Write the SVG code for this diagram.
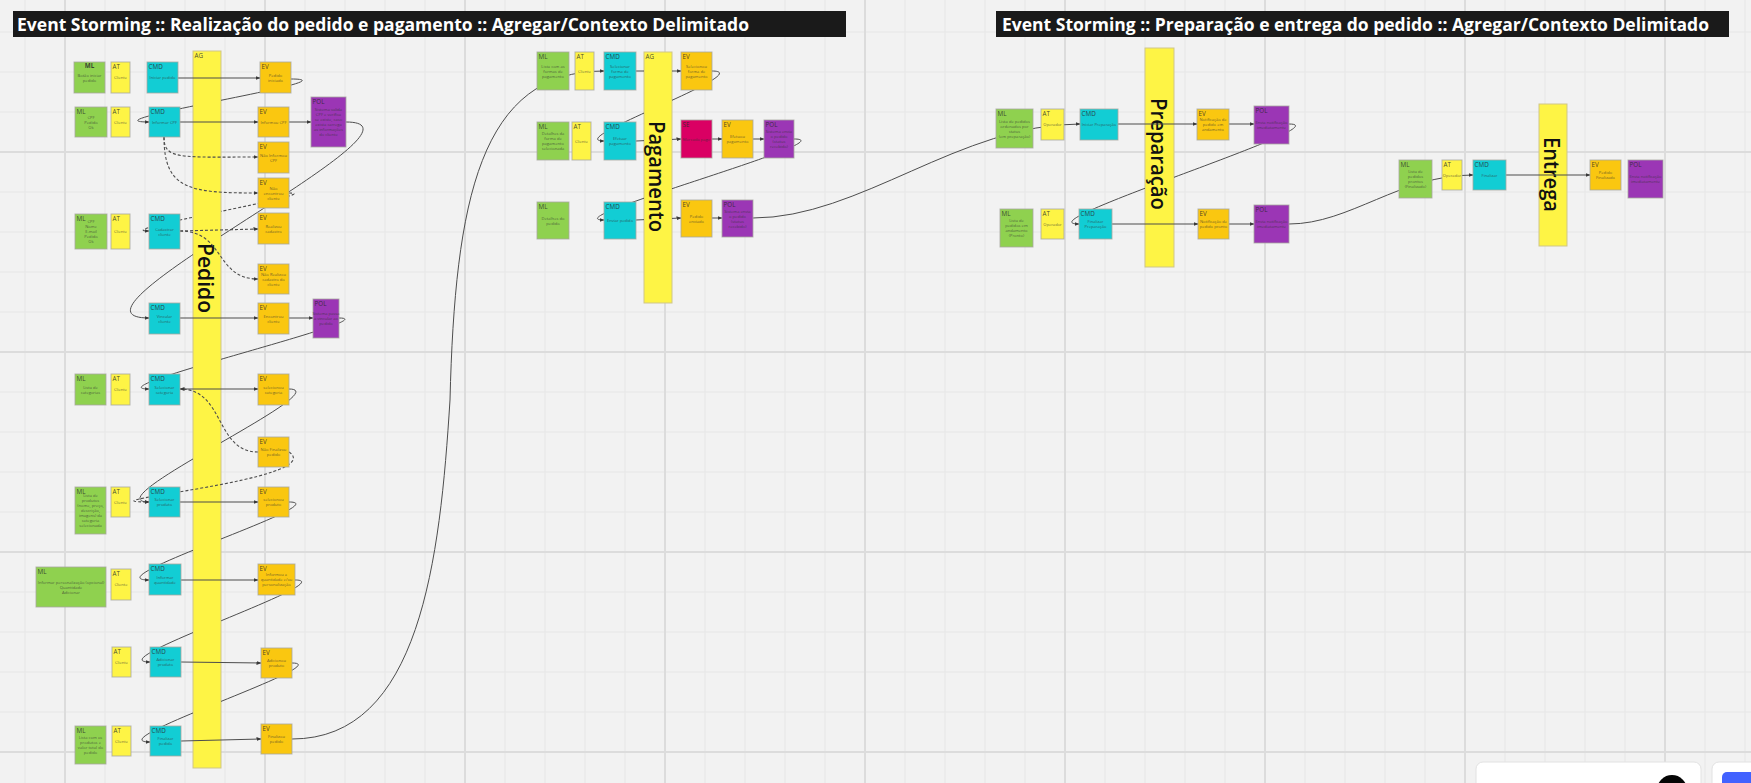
<svg xmlns="http://www.w3.org/2000/svg" width="1751" height="783" viewBox="0 0 1751 783">
<defs>
<style>
.bg{fill:#f2f2f2}
.n{stroke:#a8a8a0;stroke-width:1;stroke-opacity:.8}
.ml{fill:#8fd14f}.at{fill:#fef445}.cmd{fill:#12cdd4}.ev{fill:#fac710}.pol{fill:#9b36b5}.se{fill:#da0063}.ag{fill:#fef445;stroke:#cfc68a;stroke-width:1}
.tg{font-family:"Open Sans","Liberation Sans",sans-serif;font-size:6.3px;fill:#2a2a2a;fill-opacity:.85}
.tb{font-weight:bold;text-anchor:middle}
.tx{font-family:"Open Sans","Liberation Sans",sans-serif;font-size:4.1px;fill:#333;fill-opacity:.75;text-anchor:middle}
.big{font-family:"Open Sans","DejaVu Sans",sans-serif;font-size:22px;font-weight:600;fill:#111;text-anchor:middle;dominant-baseline:central}
.title{font-family:"Open Sans","Liberation Sans",sans-serif;font-weight:bold;font-size:18.5px;fill:#ffffff}
.c{fill:none;stroke:#4d4d4d;stroke-width:1;marker-end:url(#arr)}
.d{fill:none;stroke:#4d4d4d;stroke-width:1.1;stroke-dasharray:3 2;marker-end:url(#arr)}
.m{mask:url(#behindBars)}
</style>
<marker id="arr" viewBox="0 0 10 10" refX="9" refY="5" markerWidth="5" markerHeight="5" markerUnits="userSpaceOnUse" orient="auto">
<path d="M0,1 L10,5 L0,9 z" fill="#3a3a3a"/>
</marker>
<mask id="behindBars" maskUnits="userSpaceOnUse" x="0" y="0" width="1751" height="783">
<rect x="0" y="0" width="1751" height="783" fill="#fff"/>
<rect x="193" y="51" width="28" height="717" fill="#000"/>
<rect x="644" y="52" width="28" height="251" fill="#000"/>
<rect x="1145" y="48" width="29" height="219" fill="#000"/>
<rect x="1539" y="104" width="28" height="142" fill="#000"/>
</mask>
<pattern id="gMinor" x="5" y="12" width="40" height="40" patternUnits="userSpaceOnUse">
<path d="M20,0 V40 M0,20 H40" stroke="#e6e6e6" stroke-width="1" fill="none"/>
</pattern>
<pattern id="gMajor" x="-35" y="52" width="200" height="200" patternUnits="userSpaceOnUse">
<path d="M100,0 V200 M0,100 H200" stroke="#dcdcdc" stroke-width="2" fill="none"/>
</pattern>
</defs>

<g id="background">
<rect class="bg" x="0" y="0" width="1751" height="783"/>
<rect x="0" y="0" width="1751" height="783" fill="url(#gMinor)"/>
<rect x="0" y="0" width="1751" height="783" fill="url(#gMajor)"/>
</g>

<g id="titles">
<g id="title-left">
<rect x="13" y="11" width="833" height="26" fill="#1a1a1a"/>
<text class="title" x="17" y="30.5" textLength="732" lengthAdjust="spacingAndGlyphs">Event Storming :: Realização do pedido e pagamento :: Agregar/Contexto Delimitado</text>
</g>
<g id="title-right">
<rect x="996" y="11" width="733" height="26" fill="#1a1a1a"/>
<text class="title" x="1002" y="30.5" textLength="707" lengthAdjust="spacingAndGlyphs">Event Storming :: Preparação e entrega do pedido :: Agregar/Contexto Delimitado</text>
</g>
</g>

<g id="aggregates">
<g id="ag-pedido"><rect class="ag" x="193" y="51" width="28" height="717"/><text class="tg" x="194.5" y="57.5">AG</text><text class="big" transform="translate(207,278) rotate(90)" textLength="70" lengthAdjust="spacingAndGlyphs">Pedido</text></g>
<g id="ag-pagamento"><rect class="ag" x="644" y="52" width="28" height="251"/><text class="tg" x="645.5" y="58.5">AG</text><text class="big" transform="translate(658,176.5) rotate(90)" textLength="111" lengthAdjust="spacingAndGlyphs">Pagamento</text></g>
<g id="ag-preparacao"><rect class="ag" x="1145" y="48" width="29" height="219"/><text class="big" transform="translate(1159.5,154) rotate(90)" textLength="112" lengthAdjust="spacingAndGlyphs">Preparação</text></g>
<g id="ag-entrega"><rect class="ag" x="1539" y="104" width="28" height="142"/><text class="big" transform="translate(1553,174.5) rotate(90)" textLength="75" lengthAdjust="spacingAndGlyphs">Entrega</text></g>
</g>

<g id="connectors">
<path class="c" d="M178,78 L260,78"/>
<path class="c m" d="M291,79 C361,79 79,122 149,122"/>
<path class="c" d="M180,122 L258,122"/>
<path class="c" d="M289,122 L311,122"/>
<path class="c m" d="M346,122 C450,122 40,318 149,318"/>
<path class="d" d="M164,137 C164,160 180,157 258,157"/>
<path class="d" d="M164,137 C164,190 190,193 258,193"/>
<path class="d m" d="M289,193 C330,193 105,231 149,231"/>
<path class="d" d="M180,231 L258,229"/>
<path class="d" d="M180,231 C225,231 215,279 258,279"/>
<path class="c" d="M180,318 L258,318"/>
<path class="c" d="M289,318 L313,318"/>
<path class="c m" d="M339,318 C390,318 90,389 149,389"/>
<path class="c" d="M180,389 L258,389"/>
<path class="d" d="M258,452 C215,452 225,389 180,389"/>
<path class="c m" d="M289,389 C340,389 90,502 149,502"/>
<path class="d" d="M289,452 C330,480 70,502 149,502"/>
<path class="c" d="M180,502 L258,502"/>
<path class="c m" d="M289,502 C340,502 90,580 149,580"/>
<path class="c" d="M181,580 L258,580"/>
<path class="c m" d="M295,580 C345,580 95,662 150,662"/>
<path class="c" d="M181,662 L261,663"/>
<path class="c m" d="M292,663 C340,663 95,742 150,742"/>
<path class="c" d="M181,741 L261,739"/>
<path class="c" d="M292,739 C420,739 440,560 450,400 C455,200 480,71 604,71"/>
<path class="c m" d="M636,71 L681,71"/>
<path class="c m" d="M712,71 C760,71 560,141 604,141"/>
<path class="c m" d="M636,141 L681,139"/>
<path class="c" d="M712,139 L722,139"/>
<path class="c" d="M753,139 L764,139"/>
<path class="c m" d="M794,139 C850,139 550,220 604,220"/>
<path class="c m" d="M636,220 L681,218"/>
<path class="c" d="M712,218 L722,218"/>
<path class="c" d="M753,218 C860,218 960,124 1080,124"/>
<path class="c" d="M1118,124 L1197,124"/>
<path class="c" d="M1229,124 L1254,124"/>
<path class="c m" d="M1289,124 C1345,124 1020,224 1079,224"/>
<path class="c" d="M1112,224 L1198,224"/>
<path class="c" d="M1229,224 L1254,224"/>
<path class="c" d="M1289,224 C1350,224 1400,175 1473,175"/>
<path class="c" d="M1506,175 L1590,175"/>
</g>

<g id="ml1"><rect class="n ml" x="74" y="62" width="31" height="31"/><text class="tg tb" x="89.5" y="68">ML</text><text class="tx" x="89.5" y="76.5"><tspan x="89.5">Botão iniciar</tspan><tspan x="89.5" dy="5">pedido</tspan></text></g>
<g id="at1"><rect class="n at" x="111" y="62" width="19" height="31"/><text class="tg" x="112.5" y="68.5">AT</text><text class="tx" x="120.5" y="79">Cliente</text></g>
<g id="cmd1"><rect class="n cmd" x="147" y="62" width="31" height="31"/><text class="tg" x="148.5" y="68.5">CMD</text><text class="tx" x="162.5" y="79">Iniciar pedido</text></g>
<g id="ev1"><rect class="n ev" x="260" y="62" width="31" height="31"/><text class="tg" x="261.5" y="68.5">EV</text><text class="tx" x="275.5" y="76.5"><tspan x="275.5">Pedido</tspan><tspan x="275.5" dy="5">iniciado</tspan></text></g>

<g id="ml2"><rect class="n ml" x="75" y="107" width="32" height="30"/><text class="tg" x="76.5" y="113.5">ML</text><text class="tx" x="91" y="118.5"><tspan x="91">CPF</tspan><tspan x="91" dy="5">Pedido</tspan><tspan x="91" dy="5">Ok</tspan></text></g>
<g id="at2"><rect class="n at" x="111" y="107" width="19" height="30"/><text class="tg" x="112.5" y="113.5">AT</text><text class="tx" x="120.5" y="123.5">Cliente</text></g>
<g id="cmd2"><rect class="n cmd" x="149" y="107" width="31" height="30"/><text class="tg" x="150.5" y="113.5">CMD</text><text class="tx" x="164.5" y="123.5">Informar CPF</text></g>
<g id="ev2"><rect class="n ev" x="258" y="107" width="31" height="30"/><text class="tg" x="259.5" y="113.5">EV</text><text class="tx" x="273.5" y="123.5">Informou CPF</text></g>
<g id="pol1"><rect class="n pol" x="311" y="97" width="35" height="50"/><text class="tg" x="312.5" y="103.5">POL</text><text class="tx" x="328.5" y="111"><tspan x="328.5">Sistema valida</tspan><tspan x="328.5" dy="5">CPF e verifica</tspan><tspan x="328.5" dy="5">se existe, caso</tspan><tspan x="328.5" dy="5">exista carrega</tspan><tspan x="328.5" dy="5">as informações</tspan><tspan x="328.5" dy="5">do cliente</tspan></text></g>
<g id="ev3"><rect class="n ev" x="258" y="142" width="31" height="31"/><text class="tg" x="259.5" y="148.5">EV</text><text class="tx" x="273.5" y="156.5"><tspan x="273.5">Não Informou</tspan><tspan x="273.5" dy="5">CPF</tspan></text></g>
<g id="ev4"><rect class="n ev" x="258" y="178" width="31" height="30"/><text class="tg" x="259.5" y="184.5">EV</text><text class="tx" x="273.5" y="189.5"><tspan x="273.5">Não</tspan><tspan x="273.5" dy="5">encontrou</tspan><tspan x="273.5" dy="5">cliente</tspan></text></g>

<g id="ml3"><rect class="n ml" x="75" y="214" width="32" height="35"/><text class="tg" x="76.5" y="220.5">ML</text><text class="tx" x="91" y="223"><tspan x="91">CPF</tspan><tspan x="91" dy="5">Nome</tspan><tspan x="91" dy="5">E-mail</tspan><tspan x="91" dy="5">Pedido</tspan><tspan x="91" dy="5">Ok</tspan></text></g>
<g id="at3"><rect class="n at" x="111" y="214" width="19" height="35"/><text class="tg" x="112.5" y="220.5">AT</text><text class="tx" x="120.5" y="233">Cliente</text></g>
<g id="cmd3"><rect class="n cmd" x="149" y="214" width="31" height="35"/><text class="tg" x="150.5" y="220.5">CMD</text><text class="tx" x="164.5" y="230.5"><tspan x="164.5">Cadastrar</tspan><tspan x="164.5" dy="5">cliente</tspan></text></g>
<g id="ev5"><rect class="n ev" x="258" y="213" width="31" height="31"/><text class="tg" x="259.5" y="219.5">EV</text><text class="tx" x="273.5" y="227.5"><tspan x="273.5">Realizou</tspan><tspan x="273.5" dy="5">cadastro</tspan></text></g>
<g id="ev6"><rect class="n ev" x="258" y="264" width="31" height="30"/><text class="tg" x="259.5" y="270.5">EV</text><text class="tx" x="273.5" y="275.5"><tspan x="273.5">Não Realizou</tspan><tspan x="273.5" dy="5">cadastro do</tspan><tspan x="273.5" dy="5">cliente</tspan></text></g>
<g id="cmd4"><rect class="n cmd" x="149" y="303" width="31" height="31"/><text class="tg" x="150.5" y="309.5">CMD</text><text class="tx" x="164.5" y="317.5"><tspan x="164.5">Vincular</tspan><tspan x="164.5" dy="5">cliente</tspan></text></g>
<g id="ev7"><rect class="n ev" x="258" y="303" width="31" height="31"/><text class="tg" x="259.5" y="309.5">EV</text><text class="tx" x="273.5" y="317.5"><tspan x="273.5">Encontrou</tspan><tspan x="273.5" dy="5">cliente</tspan></text></g>
<g id="pol2"><rect class="n pol" x="313" y="299" width="26" height="39"/><text class="tg" x="314.5" y="305.5">POL</text><text class="tx" x="326" y="315"><tspan x="326">Sistema passa</tspan><tspan x="326" dy="5">a vincular ao</tspan><tspan x="326" dy="5">pedido</tspan></text></g>

<g id="ml4"><rect class="n ml" x="75" y="374" width="31" height="31"/><text class="tg" x="76.5" y="380.5">ML</text><text class="tx" x="90.5" y="388.5"><tspan x="90.5">Lista de</tspan><tspan x="90.5" dy="5">categorias</tspan></text></g>
<g id="at4"><rect class="n at" x="111" y="374" width="19" height="31"/><text class="tg" x="112.5" y="380.5">AT</text><text class="tx" x="120.5" y="391">Cliente</text></g>
<g id="cmd5"><rect class="n cmd" x="149" y="374" width="31" height="31"/><text class="tg" x="150.5" y="380.5">CMD</text><text class="tx" x="164.5" y="388.5"><tspan x="164.5">Selecionar</tspan><tspan x="164.5" dy="5">categoria</tspan></text></g>
<g id="ev8"><rect class="n ev" x="258" y="374" width="31" height="31"/><text class="tg" x="259.5" y="380.5">EV</text><text class="tx" x="273.5" y="388.5"><tspan x="273.5">selecionou</tspan><tspan x="273.5" dy="5">categoria</tspan></text></g>
<g id="ev9"><rect class="n ev" x="258" y="437" width="31" height="30"/><text class="tg" x="259.5" y="443.5">EV</text><text class="tx" x="273.5" y="451"><tspan x="273.5">Não Finalizou</tspan><tspan x="273.5" dy="5">pedido</tspan></text></g>

<g id="ml5"><rect class="n ml" x="75" y="487" width="31" height="47"/><text class="tg" x="76.5" y="493.5">ML</text><text class="tx" x="90.5" y="497"><tspan x="90.5">Lista de</tspan><tspan x="90.5" dy="5">produtos</tspan><tspan x="90.5" dy="5">(nome, preço,</tspan><tspan x="90.5" dy="5">descrição,</tspan><tspan x="90.5" dy="5">imagens) da</tspan><tspan x="90.5" dy="5">categoria</tspan><tspan x="90.5" dy="5">selecionada</tspan></text></g>
<g id="at5"><rect class="n at" x="111" y="487" width="19" height="30"/><text class="tg" x="112.5" y="493.5">AT</text><text class="tx" x="120.5" y="503.5">Cliente</text></g>
<g id="cmd6"><rect class="n cmd" x="149" y="487" width="31" height="30"/><text class="tg" x="150.5" y="493.5">CMD</text><text class="tx" x="164.5" y="501"><tspan x="164.5">Selecionar</tspan><tspan x="164.5" dy="5">produto</tspan></text></g>
<g id="ev10"><rect class="n ev" x="258" y="487" width="31" height="30"/><text class="tg" x="259.5" y="493.5">EV</text><text class="tx" x="273.5" y="501"><tspan x="273.5">selecionou</tspan><tspan x="273.5" dy="5">produto</tspan></text></g>

<g id="ml6"><rect class="n ml" x="36" y="567" width="70" height="40"/><text class="tg" x="37.5" y="573.5">ML</text><text class="tx" x="71" y="583.5"><tspan x="71">Informar personalização (opcional)</tspan><tspan x="71" dy="5">Quantidade</tspan><tspan x="71" dy="5">Adicionar</tspan></text></g>
<g id="at6"><rect class="n at" x="111" y="569" width="20" height="31"/><text class="tg" x="112.5" y="575.5">AT</text><text class="tx" x="121" y="586">Cliente</text></g>
<g id="cmd7"><rect class="n cmd" x="149" y="564" width="32" height="31"/><text class="tg" x="150.5" y="570.5">CMD</text><text class="tx" x="165" y="578.5"><tspan x="165">Informar</tspan><tspan x="165" dy="5">quantidade</tspan></text></g>
<g id="ev11"><rect class="n ev" x="258" y="564" width="37" height="31"/><text class="tg" x="259.5" y="570.5">EV</text><text class="tx" x="276.5" y="576"><tspan x="276.5">Informou a</tspan><tspan x="276.5" dy="5">quantidade e/ou</tspan><tspan x="276.5" dy="5">personalização</tspan></text></g>

<g id="at7"><rect class="n at" x="112" y="647" width="19" height="30"/><text class="tg" x="113.5" y="653.5">AT</text><text class="tx" x="121.5" y="663.5">Cliente</text></g>
<g id="cmd8"><rect class="n cmd" x="150" y="647" width="31" height="30"/><text class="tg" x="151.5" y="653.5">CMD</text><text class="tx" x="165.5" y="661"><tspan x="165.5">Adicionar</tspan><tspan x="165.5" dy="5">produto</tspan></text></g>
<g id="ev12"><rect class="n ev" x="261" y="648" width="31" height="30"/><text class="tg" x="262.5" y="654.5">EV</text><text class="tx" x="276.5" y="662"><tspan x="276.5">Adicionou</tspan><tspan x="276.5" dy="5">produto</tspan></text></g>

<g id="ml7"><rect class="n ml" x="75" y="726" width="31" height="38"/><text class="tg" x="76.5" y="732.5">ML</text><text class="tx" x="90.5" y="739"><tspan x="90.5">Lista com os</tspan><tspan x="90.5" dy="5">produtos e</tspan><tspan x="90.5" dy="5">valor total do</tspan><tspan x="90.5" dy="5">pedido</tspan></text></g>
<g id="at8"><rect class="n at" x="112" y="726" width="19" height="30"/><text class="tg" x="113.5" y="732.5">AT</text><text class="tx" x="121.5" y="742.5">Cliente</text></g>
<g id="cmd9"><rect class="n cmd" x="150" y="726" width="31" height="30"/><text class="tg" x="151.5" y="732.5">CMD</text><text class="tx" x="165.5" y="740"><tspan x="165.5">Finalizar</tspan><tspan x="165.5" dy="5">pedido</tspan></text></g>
<g id="ev13"><rect class="n ev" x="261" y="724" width="31" height="30"/><text class="tg" x="262.5" y="730.5">EV</text><text class="tx" x="276.5" y="738"><tspan x="276.5">Finalizou</tspan><tspan x="276.5" dy="5">pedido</tspan></text></g>

<g id="ml-p1"><rect class="n ml" x="537" y="52" width="32" height="38"/><text class="tg" x="538.5" y="58.5">ML</text><text class="tx" x="553" y="67.5"><tspan x="553">Lista com as</tspan><tspan x="553" dy="5">formas de</tspan><tspan x="553" dy="5">pagamento</tspan></text></g>
<g id="at-p1"><rect class="n at" x="575" y="52" width="19" height="38"/><text class="tg" x="576.5" y="58.5">AT</text><text class="tx" x="584.5" y="72.5">Cliente</text></g>
<g id="cmd-p1"><rect class="n cmd" x="604" y="52" width="32" height="38"/><text class="tg" x="605.5" y="58.5">CMD</text><text class="tx" x="620" y="67.5"><tspan x="620">Selecionar</tspan><tspan x="620" dy="5">forma de</tspan><tspan x="620" dy="5">pagamento</tspan></text></g>
<g id="ev-p1"><rect class="n ev" x="681" y="52" width="31" height="38"/><text class="tg" x="682.5" y="58.5">EV</text><text class="tx" x="696.5" y="67.5"><tspan x="696.5">Selecionou</tspan><tspan x="696.5" dy="5">forma de</tspan><tspan x="696.5" dy="5">pagamento</tspan></text></g>
<g id="ml-p2"><rect class="n ml" x="537" y="122" width="32" height="38"/><text class="tg" x="538.5" y="128.5">ML</text><text class="tx" x="553" y="135"><tspan x="553">Detalhes da</tspan><tspan x="553" dy="5">forma de</tspan><tspan x="553" dy="5">pagamento</tspan><tspan x="553" dy="5">selecionada</tspan></text></g>
<g id="at-p2"><rect class="n at" x="572" y="122" width="19" height="38"/><text class="tg" x="573.5" y="128.5">AT</text><text class="tx" x="581.5" y="142.5">Cliente</text></g>
<g id="cmd-p2"><rect class="n cmd" x="604" y="122" width="32" height="38"/><text class="tg" x="605.5" y="128.5">CMD</text><text class="tx" x="620" y="140"><tspan x="620">Efetuar</tspan><tspan x="620" dy="5">pagamento</tspan></text></g>
<g id="se-p"><rect class="n se" x="681" y="120" width="31" height="38"/><text class="tg" x="682.5" y="126.5">SE</text><text class="tx" x="696.5" y="140.5">Mercado pago</text></g>
<g id="ev-p2"><rect class="n ev" x="722" y="120" width="31" height="38"/><text class="tg" x="723.5" y="126.5">EV</text><text class="tx" x="737.5" y="138"><tspan x="737.5">Efetuou</tspan><tspan x="737.5" dy="5">pagamento</tspan></text></g>
<g id="pol-p1"><rect class="n pol" x="764" y="120" width="30" height="38"/><text class="tg" x="765.5" y="126.5">POL</text><text class="tx" x="779" y="133"><tspan x="779">Sistema envia</tspan><tspan x="779" dy="5">o pedido</tspan><tspan x="779" dy="5">(status</tspan><tspan x="779" dy="5">recebido)</tspan></text></g>
<g id="ml-p3"><rect class="n ml" x="537" y="202" width="32" height="37"/><text class="tg" x="538.5" y="208.5">ML</text><text class="tx" x="553" y="219.5"><tspan x="553">Detalhes do</tspan><tspan x="553" dy="5">pedido</tspan></text></g>
<g id="cmd-p3"><rect class="n cmd" x="604" y="202" width="32" height="37"/><text class="tg" x="605.5" y="208.5">CMD</text><text class="tx" x="620" y="222">Enviar pedido</text></g>
<g id="ev-p3"><rect class="n ev" x="681" y="200" width="31" height="37"/><text class="tg" x="682.5" y="206.5">EV</text><text class="tx" x="696.5" y="217.5"><tspan x="696.5">Pedido</tspan><tspan x="696.5" dy="5">enviado</tspan></text></g>
<g id="pol-p2"><rect class="n pol" x="722" y="200" width="31" height="37"/><text class="tg" x="723.5" y="206.5">POL</text><text class="tx" x="737.5" y="212.5"><tspan x="737.5">Sistema envia</tspan><tspan x="737.5" dy="5">o pedido</tspan><tspan x="737.5" dy="5">(status</tspan><tspan x="737.5" dy="5">recebido)</tspan></text></g>

<g id="ml-r1"><rect class="n ml" x="996" y="109" width="37" height="39"/><text class="tg" x="997.5" y="115.5">ML</text><text class="tx" x="1014.5" y="122.5"><tspan x="1014.5">Lista de pedidos</tspan><tspan x="1014.5" dy="5">ordenados por</tspan><tspan x="1014.5" dy="5">status</tspan><tspan x="1014.5" dy="5">(em preparação)</tspan></text></g>
<g id="at-r1"><rect class="n at" x="1041" y="109" width="23" height="31"/><text class="tg" x="1042.5" y="115.5">AT</text><text class="tx" x="1052.5" y="126">Operador</text></g>
<g id="cmd-r1"><rect class="n cmd" x="1080" y="109" width="38" height="31"/><text class="tg" x="1081.5" y="115.5">CMD</text><text class="tx" x="1099" y="126">Iniciar Preparação</text></g>
<g id="ev-r1"><rect class="n ev" x="1197" y="109" width="32" height="31"/><text class="tg" x="1198.5" y="115.5">EV</text><text class="tx" x="1213" y="121"><tspan x="1213">Notificação de</tspan><tspan x="1213" dy="5">pedido em</tspan><tspan x="1213" dy="5">andamento</tspan></text></g>
<g id="pol-r1"><rect class="n pol" x="1254" y="106" width="35" height="38"/><text class="tg" x="1255.5" y="112.5">POL</text><text class="tx" x="1271.5" y="124"><tspan x="1271.5">Envia notificação</tspan><tspan x="1271.5" dy="5">imediatamente</tspan></text></g>
<g id="ml-r2"><rect class="n ml" x="1000" y="209" width="33" height="38"/><text class="tg" x="1001.5" y="215.5">ML</text><text class="tx" x="1016.5" y="222"><tspan x="1016.5">Lista de</tspan><tspan x="1016.5" dy="5">pedidos em</tspan><tspan x="1016.5" dy="5">andamento</tspan><tspan x="1016.5" dy="5">(Pronto)</tspan></text></g>
<g id="at-r2"><rect class="n at" x="1041" y="209" width="23" height="30"/><text class="tg" x="1042.5" y="215.5">AT</text><text class="tx" x="1052.5" y="225.5">Operador</text></g>
<g id="cmd-r2"><rect class="n cmd" x="1079" y="209" width="33" height="30"/><text class="tg" x="1080.5" y="215.5">CMD</text><text class="tx" x="1095.5" y="223"><tspan x="1095.5">Finalizar</tspan><tspan x="1095.5" dy="5">Preparação</tspan></text></g>
<g id="ev-r2"><rect class="n ev" x="1198" y="209" width="31" height="30"/><text class="tg" x="1199.5" y="215.5">EV</text><text class="tx" x="1213.5" y="223"><tspan x="1213.5">Notificação de</tspan><tspan x="1213.5" dy="5">pedido pronto</tspan></text></g>
<g id="pol-r2"><rect class="n pol" x="1254" y="205" width="35" height="38"/><text class="tg" x="1255.5" y="211.5">POL</text><text class="tx" x="1271.5" y="223"><tspan x="1271.5">Envia notificação</tspan><tspan x="1271.5" dy="5">imediatamente</tspan></text></g>

<g id="ml-e"><rect class="n ml" x="1399" y="160" width="33" height="38"/><text class="tg" x="1400.5" y="166.5">ML</text><text class="tx" x="1415.5" y="173"><tspan x="1415.5">Lista de</tspan><tspan x="1415.5" dy="5">pedidos</tspan><tspan x="1415.5" dy="5">prontos</tspan><tspan x="1415.5" dy="5">(Finalizado)</tspan></text></g>
<g id="at-e"><rect class="n at" x="1442" y="160" width="20" height="30"/><text class="tg" x="1443.5" y="166.5">AT</text><text class="tx" x="1452" y="176.5">Operador</text></g>
<g id="cmd-e"><rect class="n cmd" x="1473" y="160" width="33" height="30"/><text class="tg" x="1474.5" y="166.5">CMD</text><text class="tx" x="1489.5" y="176.5">Finalizar</text></g>
<g id="ev-e"><rect class="n ev" x="1590" y="160" width="31" height="30"/><text class="tg" x="1591.5" y="166.5">EV</text><text class="tx" x="1605.5" y="174"><tspan x="1605.5">Pedido</tspan><tspan x="1605.5" dy="5">Finalizado</tspan></text></g>
<g id="pol-e"><rect class="n pol" x="1628" y="160" width="35" height="38"/><text class="tg" x="1629.5" y="166.5">POL</text><text class="tx" x="1645.5" y="178"><tspan x="1645.5">Envia notificação</tspan><tspan x="1645.5" dy="5">imediatamente</tspan></text></g>

<g id="ui-overlay">
<rect x="1476" y="762" width="225" height="40" rx="7" fill="#ffffff" stroke="#e2e2e2" stroke-width="1"/>
<circle cx="1672" cy="790" r="15" fill="#050505"/>
<rect x="1712" y="762" width="60" height="40" rx="7" fill="#ffffff" stroke="#e2e2e2" stroke-width="1"/>
<rect x="1722" y="772" width="40" height="30" rx="5" fill="#4262ff"/>
</g>
</svg>
